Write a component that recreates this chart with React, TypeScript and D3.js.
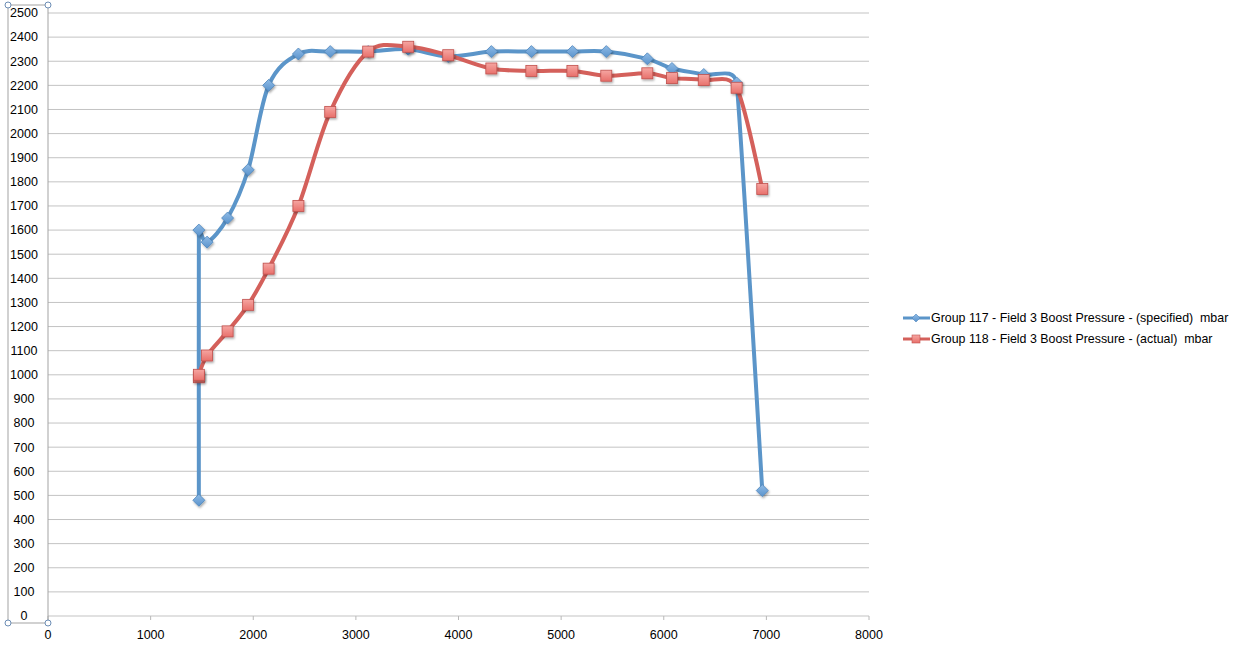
import * as d3 from 'd3';

// engine speed (rpm) per logged row
const rpm = [1470, 1470, 1550, 1750, 1950, 2150, 2440, 2750, 3120, 3510, 3900, 4320, 4710, 5110, 5440, 5840, 6080, 6390, 6710, 6960];
// Group 117 - specified boost (mbar)
const specified = [480, 1600, 1550, 1650, 1850, 2200, 2330, 2340, 2340, 2350, 2320, 2340, 2340, 2340, 2340, 2310, 2270, 2245, 2210, 520];
// Group 118 - actual boost (mbar)
const actual = [990, 1000, 1080, 1180, 1290, 1440, 1700, 2090, 2340, 2360, 2325, 2270, 2260, 2260, 2240, 2250, 2230, 2222, 2190, 1770];

const yTicks = d3.range(0, 2501, 100);
const xTicks = d3.range(0, 8001, 1000);

const seriesNames = [
  'Group 117 - Field 3 Boost Pressure - (specified)  mbar',
  'Group 118 - Field 3 Boost Pressure - (actual)  mbar',
];

const width = 1240;
const height = 648;
const margin = { top: 13, left: 48, right: 371, bottom: 32 };
const font = '"Liberation Sans", Arial, Helvetica, sans-serif';

const blue = '#5b95c9';
const red = '#d4605b';

type Pt = [number, number];

// spreadsheet-style smoothed line: bezier arms 1/6 of the neighbour chord,
// clamped to half of the shorter adjacent segment
function smoothPath(pts: Pt[]) {
  const p = d3.path();
  const n = pts.length;
  const ctrl = pts.map((pt, i) => {
    if (i === 0 || i === n - 1) return { inC: pt, outC: pt };
    const a = pts[i - 1];
    const b = pts[i + 1];
    const tx = b[0] - a[0];
    const ty = b[1] - a[1];
    const t = Math.hypot(tx, ty);
    if (t < 1e-6) return { inC: pt, outC: pt };
    const dPrev = Math.hypot(pt[0] - a[0], pt[1] - a[1]);
    const dNext = Math.hypot(b[0] - pt[0], b[1] - pt[1]);
    const f = Math.min(1 / 6, (0.5 * dPrev) / t, (0.5 * dNext) / t);
    return {
      inC: [pt[0] - f * tx, pt[1] - f * ty] as Pt,
      outC: [pt[0] + f * tx, pt[1] + f * ty] as Pt,
    };
  });
  p.moveTo(pts[0][0], pts[0][1]);
  for (let i = 1; i < n; i++) {
    const c1 = ctrl[i - 1].outC;
    const c2 = ctrl[i].inC;
    p.bezierCurveTo(c1[0], c1[1], c2[0], c2[1], pts[i][0], pts[i][1]);
  }
  return p.toString();
}

export default function App() {
  const x = d3.scaleLinear().domain([0, 8000]).range([margin.left, width - margin.right]);
  const y = d3.scaleLinear().domain([0, 2500]).range([height - margin.bottom, margin.top]);

  const specPts = rpm.map((r, i) => [x(r), y(specified[i])] as Pt);
  const actPts = rpm.map((r, i) => [x(r), y(actual[i])] as Pt);

  const y0 = y(0);
  const boxTop = 5;
  const boxBottom = 623;
  const boxLeft = 8;

  const diamond = (cx: number, cy: number, r: number) =>
    `M${cx},${cy - r}L${cx + r},${cy}L${cx},${cy + r}L${cx - r},${cy}Z`;

  return (
    <svg width={width} height={height} style={{ position: 'absolute', left: 0, top: 0, background: '#fff' }}>
      <defs>
        <linearGradient id="blueFill" x1="0" y1="0" x2="0" y2="1">
          <stop offset="0" stopColor="#8fbbe6" />
          <stop offset="1" stopColor="#5a93cc" />
        </linearGradient>
        <linearGradient id="redFill" x1="0" y1="0" x2="0" y2="1">
          <stop offset="0" stopColor="#f6a6a2" />
          <stop offset="1" stopColor="#e8706b" />
        </linearGradient>
        <filter id="shadow" x="-50%" y="-50%" width="200%" height="200%">
          <feDropShadow dx="1" dy="1.5" stdDeviation="1" floodColor="#000" floodOpacity="0.35" />
        </filter>
      </defs>

      {/* grid lines */}
      {yTicks.map(t => (
        <line key={t} x1={x(0)} x2={x(8000)} y1={y(t)} y2={y(t)} stroke="#c3c3c3" strokeWidth={1} />
      ))}

      {/* x axis ticks */}
      {xTicks.map(t => (
        <g key={t}>
          <line x1={x(t)} x2={x(t)} y1={y0} y2={y0 + 4} stroke="#b8b8b8" />
          <text x={x(t)} y={y0 + 23} textAnchor="middle" fontFamily={font} fontSize={12.5} fill="#000">{t}</text>
        </g>
      ))}

      {/* y axis selection box */}
      <rect x={boxLeft} y={boxTop} width={x(0) - boxLeft} height={boxBottom - boxTop} fill="none" stroke="#a3a3a3" strokeWidth={1} />
      {[[boxLeft, boxTop], [x(0), boxTop], [boxLeft, boxBottom], [x(0), boxBottom]].map(([cx, cy], i) => (
        <circle key={i} cx={cx} cy={cy} r={3} fill="#fff" stroke="#6c8db5" strokeWidth={1} />
      ))}
      {yTicks.map(t => (
        <text key={t} x={24} y={y(t)} dy="0.35em" textAnchor="middle" fontFamily={font} fontSize={12.5} fill="#000">{t}</text>
      ))}

      {/* series lines */}
      <path d={smoothPath(specPts)} fill="none" stroke={blue} strokeWidth={4} strokeLinejoin="round" />
      <path d={smoothPath(actPts)} fill="none" stroke={red} strokeWidth={4} strokeLinejoin="round" />

      {/* markers */}
      {specPts.map((p, i) => (
        <path key={i} d={diamond(p[0], p[1], 6)} fill="url(#blueFill)" stroke="#4f86bd" strokeWidth={0.8} filter="url(#shadow)" />
      ))}
      {actPts.map((p, i) => (
        <rect key={i} x={p[0] - 5.5} y={p[1] - 5.5} width={11} height={11} fill="url(#redFill)" stroke="#c0504d" strokeWidth={0.8} filter="url(#shadow)" />
      ))}

      {/* legend */}
      {seriesNames.map((name, i) => {
        const ly = 318 + i * 21;
        return (
          <g key={name}>
            <line x1={903} x2={930} y1={ly} y2={ly} stroke={i === 0 ? blue : red} strokeWidth={3} />
            {i === 0 ? (
              <path d={diamond(916, ly, 4)} fill="url(#blueFill)" stroke="#4f86bd" strokeWidth={0.6} />
            ) : (
              <rect x={912} y={ly - 4} width={8} height={8} fill="url(#redFill)" stroke="#c0504d" strokeWidth={0.6} />
            )}
            <text x={931} y={ly} dy="0.35em" fontFamily={font} fontSize={12.4} fill="#000" style={{ whiteSpace: 'pre' }}>{name}</text>
          </g>
        );
      })}
    </svg>
  );
}
